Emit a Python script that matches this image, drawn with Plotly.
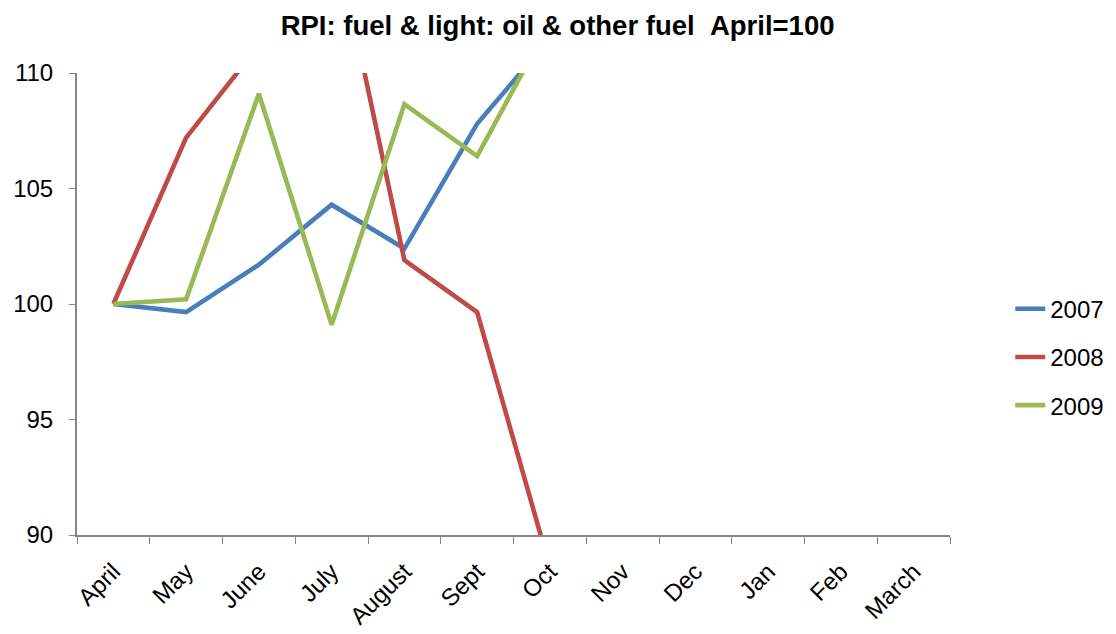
import plotly.graph_objects as go

months = ["April", "May", "June", "July", "August", "Sept", "Oct", "Nov", "Dec", "Jan", "Feb", "March"]
s2007 = [100, 99.65, 101.7, 104.3, 102.4, 107.8, 111.5, None, None, None, None, None]
s2008 = [100, 107.2, 111.2, 116.7, 101.9, 99.65, 88.6, None, None, None, None, None]
s2009 = [100, 100.2, 109.1, 99.1, 108.65, 106.4, 112.2, None, None, None, None, None]
series = [("2007", s2007, "#4A7EBB"), ("2008", s2008, "#BE4B48"), ("2009", s2009, "#98B954")]

fig = go.Figure()
for i, (name, vals, color) in enumerate(series):
    fig.add_trace(go.Scatter(x=months, y=vals, name=name, mode="lines",
                             line=dict(color=color, width=4.6), legendgroup=f"g{i}",
                             cliponaxis=True))

fig.update_layout(
    width=1108, height=626,
    margin=dict(l=69, r=166, t=65, b=99, autoexpand=False),
    paper_bgcolor="white", plot_bgcolor="white",
    font=dict(family="Liberation Sans, Arial, sans-serif", size=24, color="black"),
    title=dict(text="<b>RPI: fuel &amp; light: oil &amp; other fuel &nbsp;April=100</b>",
               x=0.496, xref="container", xanchor="center", y=0.988, yanchor="top",
               pad=dict(t=0, b=0), font=dict(size=27.5)),
    showlegend=True,
    legend=dict(x=1.069, xanchor="left", y=0.385, yanchor="middle",
                font=dict(size=24), tracegroupgap=14, bgcolor="rgba(0,0,0,0)"),
    xaxis=dict(type="category", range=[-0.5, 11.5], showline=True, linecolor="#868686",
               linewidth=2, ticks="outside", tickson="boundaries", ticklen=7,
               tickcolor="#868686", tickwidth=1, tickangle=-45, showgrid=False,
               zeroline=False, tickfont=dict(size=24), ticklabelstandoff=11),
    yaxis=dict(range=[90, 110], tickvals=[90, 95, 100, 105, 110], showline=True,
               linecolor="#868686", linewidth=2, ticks="outside", ticklen=6,
               tickcolor="#868686", tickwidth=1, showgrid=False, zeroline=False,
               tickfont=dict(size=24), ticklabelstandoff=11),
)

fig.write_html("out.html")
